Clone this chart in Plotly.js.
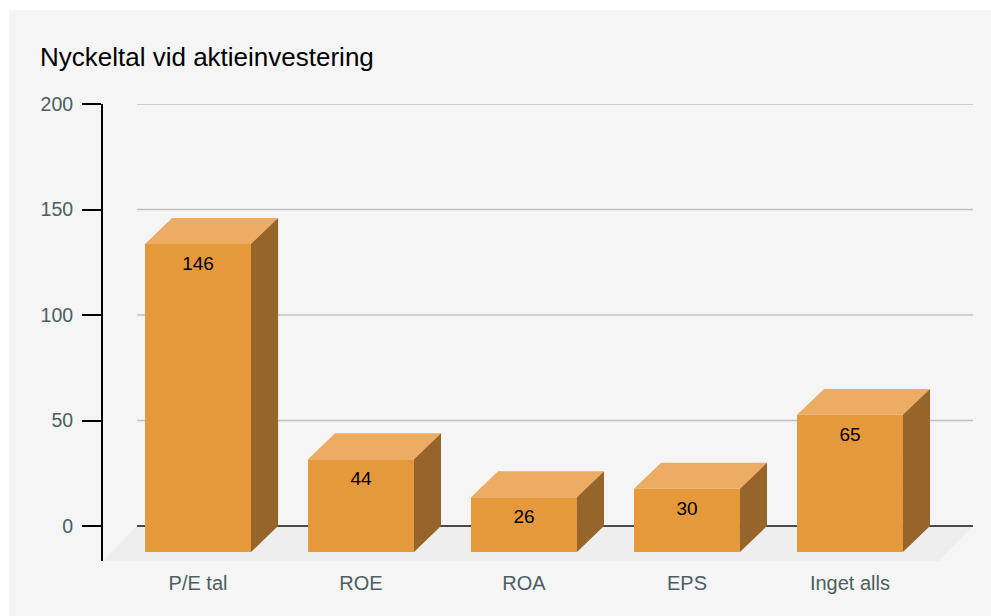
<!DOCTYPE html>
<html>
<head>
<meta charset="utf-8">
<script src="https://cdn.plot.ly/plotly-3.0.1.min.js"></script>
<style>
  html, body { margin: 0; padding: 0; background: #ffffff; overflow: hidden; }
  #chart { position: absolute; left: 9px; top: 10px; width: 982px; height: 606px; }
</style>
</head>
<body>
<div id="chart"></div>
<script>
// Key ratios used when investing in shares
const categories = ["P/E tal", "ROE", "ROA", "EPS", "Inget alls"];
const values = [146, 44, 26, 30, 65];
const yTicks = [0, 50, 100, 150, 200];

// Pseudo-3D geometry, in axis units
const barWidth = 0.65;
const depthX = 0.166;
const depthY = 12.3;
const floorDepthX = 0.209;
const floorDepthY = 16.55;
const xMin = -0.583, xMax = 4.755;
const yMin = -16.55, yMax = 200;
const gridStart = xMin + floorDepthX;

const xs = categories.map((_, i) => i);

// Closed polygons separated by nulls, so one trace fills every box face
function faces(build) {
  const px = [], py = [];
  values.forEach((v, i) => {
    build(i, v).forEach(p => { px.push(p[0]); py.push(p[1]); });
    px.push(null); py.push(null);
  });
  return { x: px, y: py };
}

const topFaces = faces((i, v) => {
  const l = i - barWidth / 2, r = i + barWidth / 2;
  return [[l, v - depthY], [l + depthX, v], [r + depthX, v], [r, v - depthY], [l, v - depthY]];
});
const sideFaces = faces((i, v) => {
  const r = i + barWidth / 2;
  return [[r, v - depthY], [r + depthX, v], [r + depthX, 0], [r, -depthY], [r, v - depthY]];
});

const traces = [
  {
    type: "bar", x: xs, y: values, base: values.map(() => -depthY), width: barWidth,
    marker: { color: "#e5993a", line: { width: 0 } }, hoverinfo: "skip"
  },
  {
    type: "scatter", mode: "lines", x: topFaces.x, y: topFaces.y, fill: "toself",
    fillcolor: "#ecac63", line: { width: 0 }, hoverinfo: "skip"
  },
  {
    type: "scatter", mode: "lines", x: sideFaces.x, y: sideFaces.y, fill: "toself",
    fillcolor: "#97642a", line: { width: 0 }, hoverinfo: "skip"
  },
  {
    type: "scatter", mode: "text", x: xs, y: values.map(v => v - depthY - 10.2),
    text: values.map(String), textposition: "middle center",
    textfont: { family: "Liberation Sans, Arial, sans-serif", size: 19, color: "#000000" },
    hoverinfo: "skip"
  }
];

// Floor slab and horizontal rules sit underneath the boxes
const shapes = [
  {
    type: "path", layer: "below", xref: "x", yref: "y", line: { width: 0 }, fillcolor: "#eeeeee",
    path: `M ${xMin} ${yMin} L ${gridStart} 0 L ${xMax} 0 L ${xMax - floorDepthX} ${yMin} Z`
  }
].concat(yTicks.map(t => ({
  type: "line", layer: "below", xref: "x", yref: "y",
  x0: gridStart, x1: xMax, y0: t, y1: t,
  line: { color: t === 0 ? "#111111" : "#c0c0c0", width: 1.5 }
})));

const layout = {
  width: 982, height: 606,
  margin: { l: 94, r: 18, t: 94, b: 55 },
  paper_bgcolor: "#f5f5f5", plot_bgcolor: "rgba(0,0,0,0)",
  showlegend: false, hovermode: false,
  title: {
    text: "Nyckeltal vid aktieinvestering",
    font: { family: "Liberation Sans, Arial, sans-serif", size: 26, color: "#000000" },
    xref: "container", yref: "container", x: 31 / 982, xanchor: "left", y: 1 - 47 / 606, yanchor: "middle"
  },
  xaxis: {
    range: [xMin, xMax], tickmode: "array", tickvals: xs, ticktext: categories,
    showgrid: false, zeroline: false, showline: false, ticks: "",
    ticklabelstandoff: 8,
    tickfont: { family: "Liberation Sans, Arial, sans-serif", size: 20, color: "#4b6060" }
  },
  yaxis: {
    range: [yMin, yMax], tickmode: "array", tickvals: yTicks,
    showgrid: false, zeroline: false, showline: true, linecolor: "#000000", linewidth: 2,
    ticks: "outside", ticklen: 19, tickwidth: 2, tickcolor: "#000000",
    ticklabelstandoff: 5,
    tickfont: { family: "Liberation Sans, Arial, sans-serif", size: 19.5, color: "#4b6060" }
  },
  shapes: shapes
};

Plotly.newPlot("chart", traces, layout, { displayModeBar: false, staticPlot: true });
</script>
</body>
</html>
